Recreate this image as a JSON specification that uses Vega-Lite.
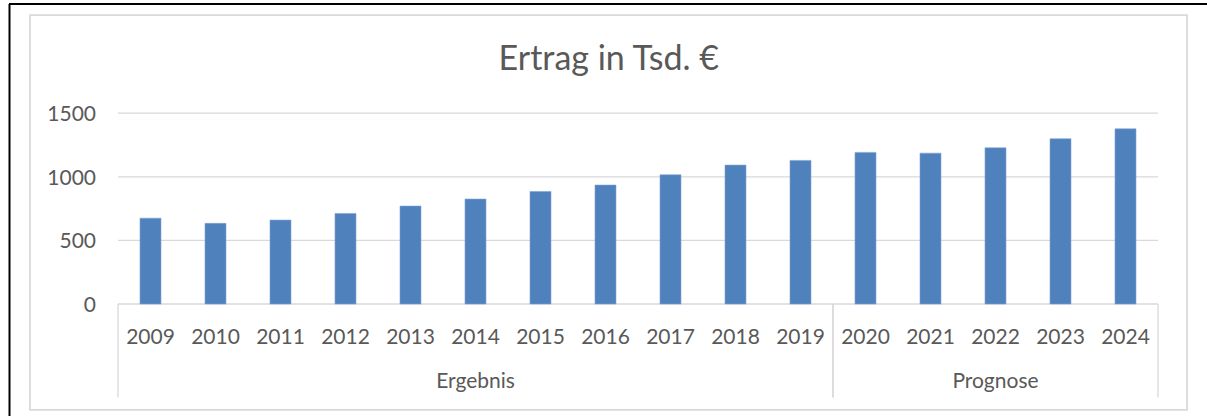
{
  "$schema": "https://vega.github.io/schema/vega-lite/v6.json",
  "width": 1198,
  "height": 412,
  "autosize": {"type": "none"},
  "padding": {"left": 9, "top": 4, "right": 0, "bottom": 0},
  "background": "white",
  "config": {"view": {"stroke": null}, "text": {"font": "Lato", "fill": "#595959"}},
  "datasets": {
    "ertrag": [
      {"year": 2009, "value": 675, "phase": "Ergebnis"},
      {"year": 2010, "value": 634, "phase": "Ergebnis"},
      {"year": 2011, "value": 660, "phase": "Ergebnis"},
      {"year": 2012, "value": 712, "phase": "Ergebnis"},
      {"year": 2013, "value": 770, "phase": "Ergebnis"},
      {"year": 2014, "value": 825, "phase": "Ergebnis"},
      {"year": 2015, "value": 885, "phase": "Ergebnis"},
      {"year": 2016, "value": 935, "phase": "Ergebnis"},
      {"year": 2017, "value": 1016, "phase": "Ergebnis"},
      {"year": 2018, "value": 1092, "phase": "Ergebnis"},
      {"year": 2019, "value": 1129, "phase": "Ergebnis"},
      {"year": 2020, "value": 1192, "phase": "Prognose"},
      {"year": 2021, "value": 1186, "phase": "Prognose"},
      {"year": 2022, "value": 1228, "phase": "Prognose"},
      {"year": 2023, "value": 1299, "phase": "Prognose"},
      {"year": 2024, "value": 1377, "phase": "Prognose"}
    ],
    "ticks": [{"v": 0}, {"v": 500}, {"v": 1000}, {"v": 1500}],
    "titel": [{"text": "Ertrag in Tsd. €"}],
    "one": [{}]
  },
  "data": {"name": "ertrag"},
  "layer": [
    {
      "data": {"name": "one"},
      "mark": {"type": "rule", "color": "#000000", "strokeWidth": 2},
      "encoding": {
        "x": {"datum": 2006.8308, "type": "quantitative", "scale": {"domain": [2006.82308, 2025.25385], "nice": false, "zero": false, "padding": 0}, "axis": null}
      }
    },
    {
      "data": {"name": "one"},
      "mark": {"type": "rule", "color": "#000000", "strokeWidth": 2},
      "encoding": {
        "y": {"datum": 2358.5, "type": "quantitative", "scale": {"domain": [-880.5, 2358.5], "nice": false, "zero": false, "padding": 0}, "axis": null}
      }
    },
    {
      "data": {"name": "one"},
      "mark": {"type": "rect", "filled": false, "color": "#d9d9d9", "strokeWidth": 1.75},
      "encoding": {
        "x": {"datum": 2007.14615, "type": "quantitative", "axis": null},
        "x2": {"datum": 2024.94615},
        "y": {"datum": 2272, "type": "quantitative", "axis": null},
        "y2": {"datum": -833.3}
      }
    },
    {
      "data": {"name": "ticks"},
      "mark": {"type": "rule", "color": "#d9d9d9", "strokeWidth": 1.3},
      "encoding": {
        "y": {"field": "v", "type": "quantitative", "axis": null},
        "x": {"datum": 2008.5, "type": "quantitative", "axis": null},
        "x2": {"datum": 2024.5}
      }
    },
    {
      "data": {"name": "ticks"},
      "mark": {"type": "text", "align": "right", "baseline": "middle", "dy": 2, "fontSize": 21},
      "encoding": {
        "y": {"field": "v", "type": "quantitative", "axis": null},
        "x": {"datum": 2008.162, "type": "quantitative", "axis": null},
        "text": {"field": "v", "type": "quantitative", "format": "d"}
      }
    },
    {
      "mark": {"type": "rule", "color": "#d9d9d9", "strokeWidth": 1.3, "xOffset": -32.5},
      "encoding": {
        "x": {"aggregate": "min", "field": "year", "type": "quantitative", "axis": null},
        "detail": {"field": "phase", "type": "nominal"},
        "y": {"datum": 0, "type": "quantitative", "axis": null},
        "y2": {"datum": -735}
      }
    },
    {
      "mark": {"type": "rule", "color": "#d9d9d9", "strokeWidth": 1.3, "xOffset": 32.5},
      "encoding": {
        "x": {"aggregate": "max", "field": "year", "type": "quantitative", "axis": null},
        "detail": {"field": "phase", "type": "nominal"},
        "y": {"datum": 0, "type": "quantitative", "axis": null},
        "y2": {"datum": -735}
      }
    },
    {
      "mark": {"type": "bar", "color": "#4f81bd", "size": 21, "orient": "vertical", "stroke": "#7fa3d3", "strokeWidth": 0.6},
      "encoding": {
        "x": {"field": "year", "type": "quantitative", "axis": null},
        "y": {"field": "value", "type": "quantitative", "axis": null},
        "y2": {"datum": 0}
      }
    },
    {
      "mark": {"type": "text", "align": "center", "baseline": "alphabetic", "fontSize": 21},
      "encoding": {
        "x": {"field": "year", "type": "quantitative", "axis": null},
        "y": {"datum": -314.5, "type": "quantitative", "axis": null},
        "text": {"field": "year", "type": "quantitative", "format": "d"}
      }
    },
    {
      "mark": {"type": "text", "align": "center", "baseline": "alphabetic", "fontSize": 21},
      "encoding": {
        "x": {"aggregate": "mean", "field": "year", "type": "quantitative", "axis": null},
        "y": {"datum": -663, "type": "quantitative", "axis": null},
        "text": {"field": "phase", "type": "nominal"}
      }
    },
    {
      "data": {"name": "titel"},
      "mark": {"type": "text", "align": "center", "baseline": "alphabetic", "fontSize": 34},
      "encoding": {
        "x": {"datum": 2016.05, "type": "quantitative", "axis": null},
        "y": {"datum": 1839.6, "type": "quantitative", "axis": null},
        "text": {"field": "text", "type": "nominal"}
      }
    }
  ]
}
